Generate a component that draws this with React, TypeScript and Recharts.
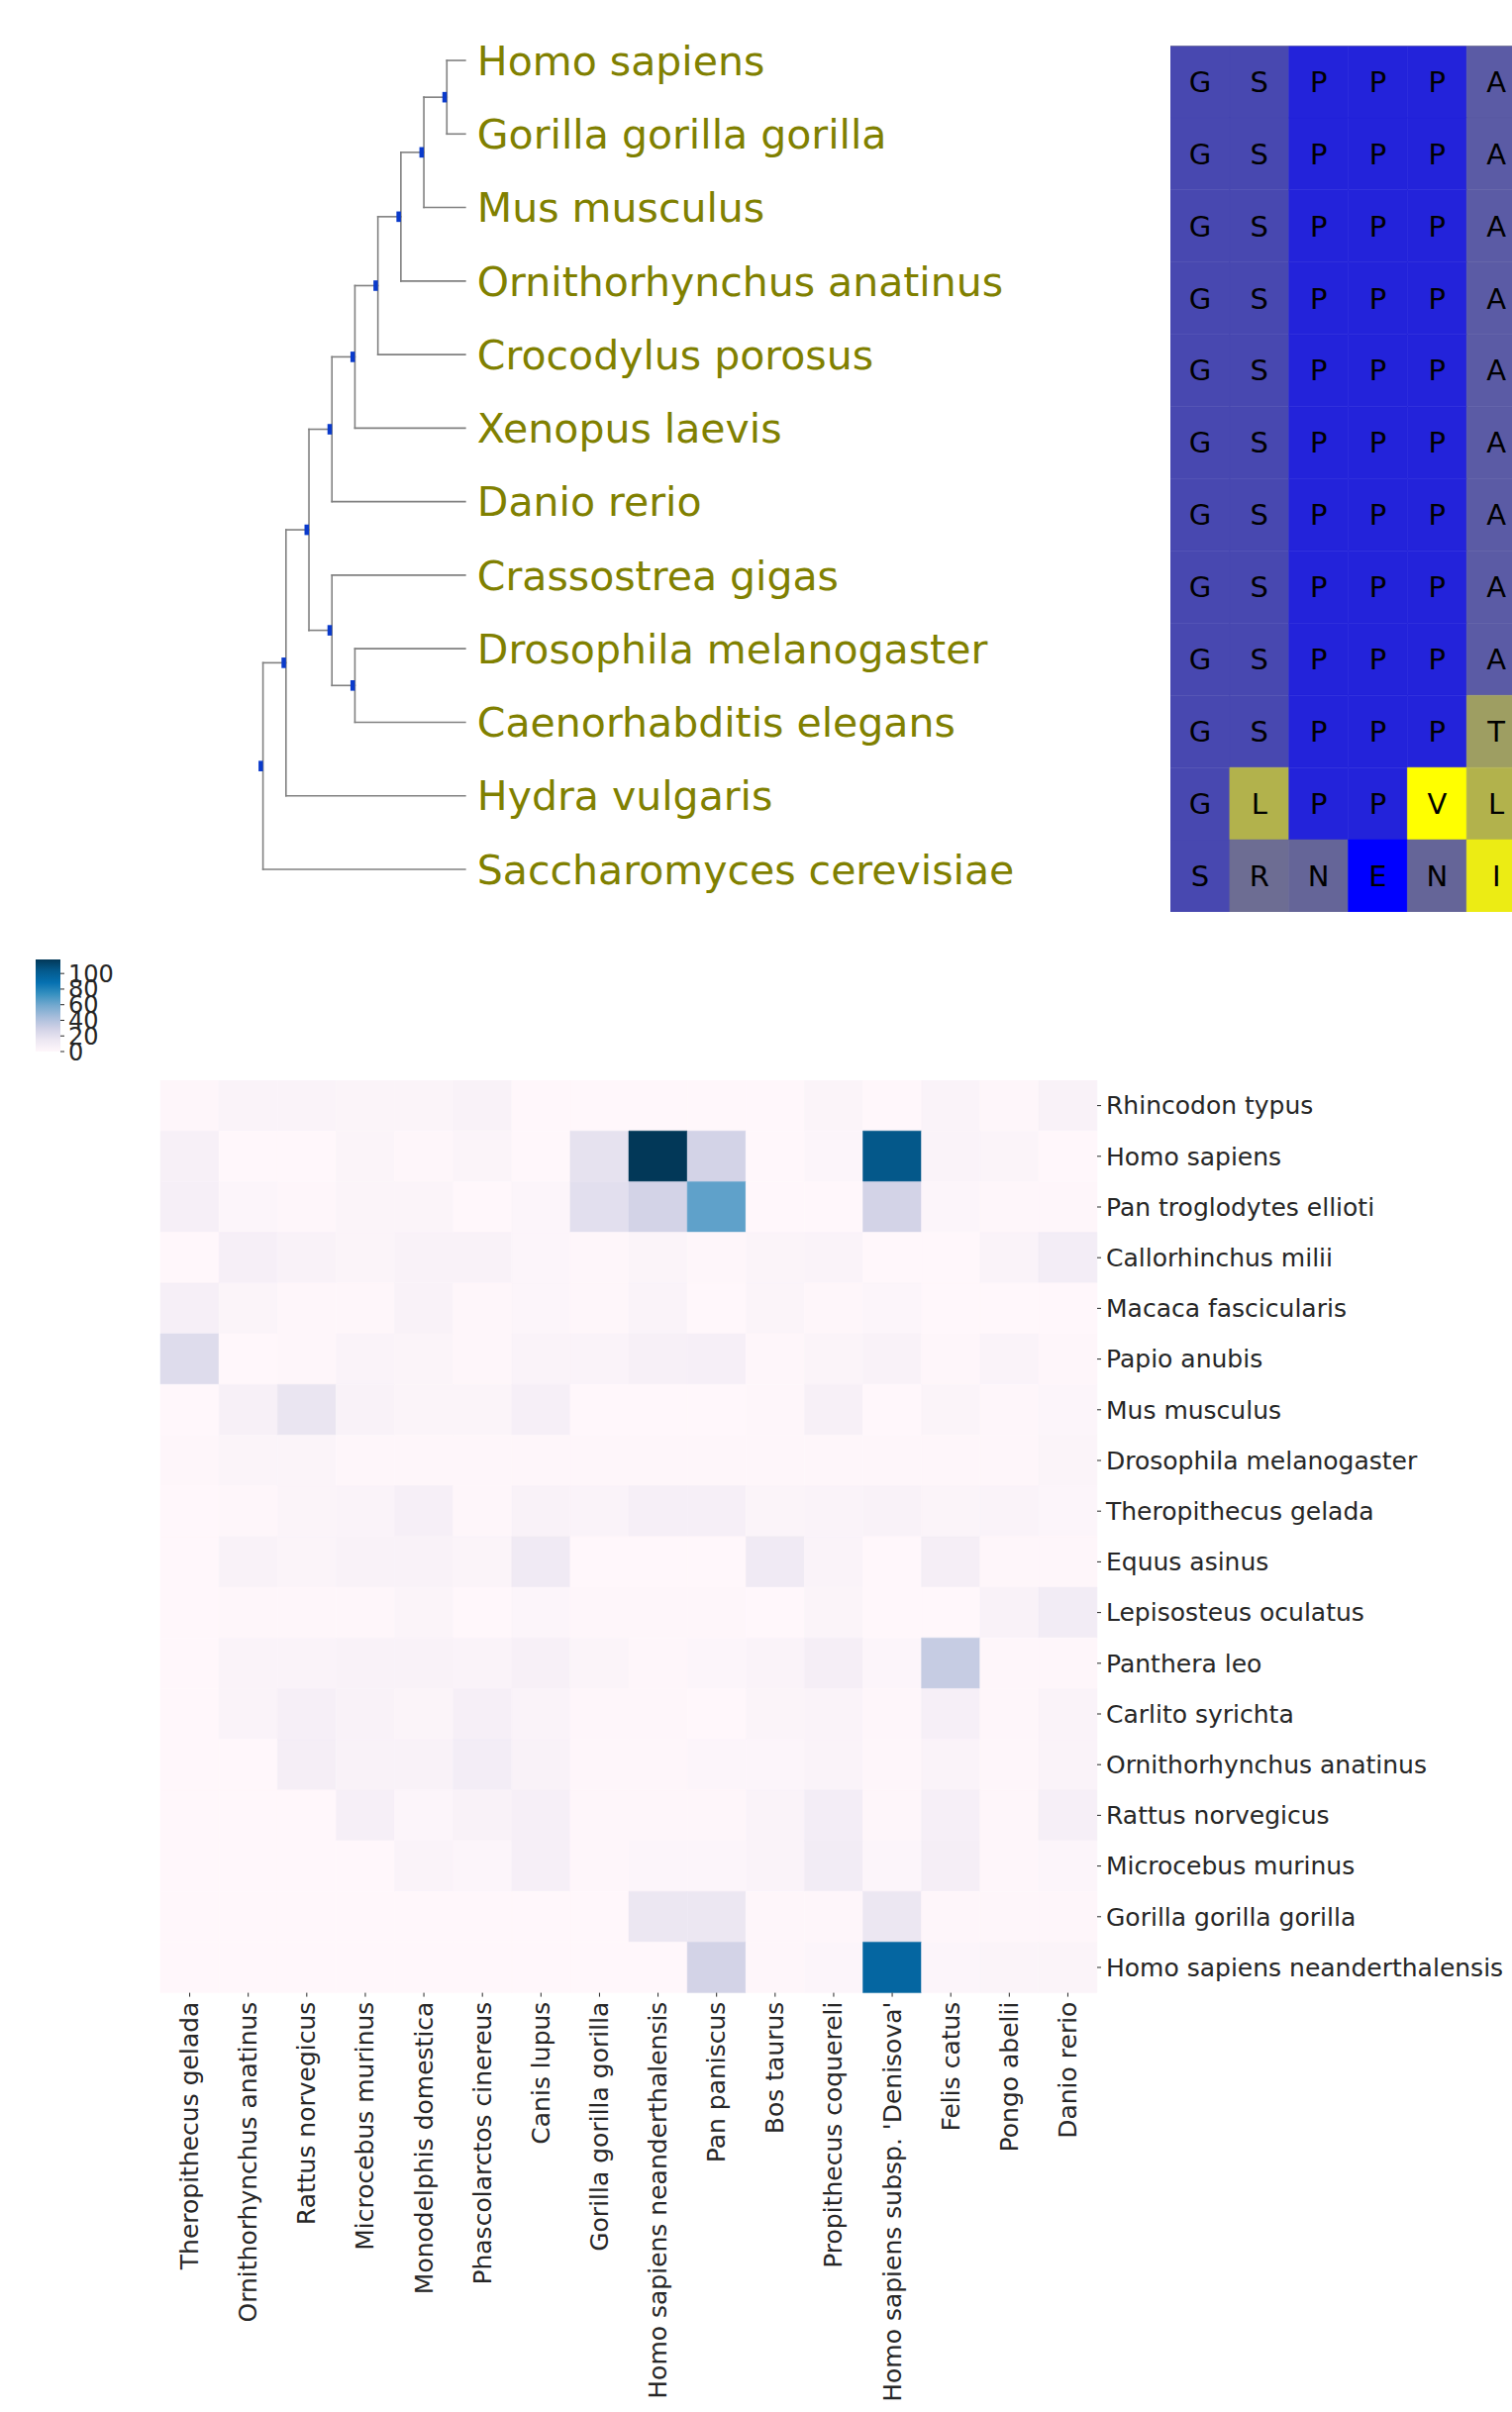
import React from "react";
import {
  BarChart,
  Bar,
  Cell,
  XAxis,
  YAxis,
  ScatterChart,
  Scatter,
  ReferenceLine,
  LabelList,
} from "recharts";

const FONT = "'DejaVu Sans', 'Liberation Sans', sans-serif";

// ---------------- Tree data ----------------
type TreeNode = string | TreeNode[];
const tree: TreeNode = [
  [
    [
      [[[[[["Homo sapiens", "Gorilla gorilla gorilla"], "Mus musculus"], "Ornithorhynchus anatinus"], "Crocodylus porosus"], "Xenopus laevis"], "Danio rerio"],
      ["Crassostrea gigas", ["Drosophila melanogaster", "Caenorhabditis elegans"]],
    ],
    "Hydra vulgaris",
  ],
  "Saccharomyces cerevisiae",
];
const LEAF_DEPTH = 8.8;

// ---------------- Alignment data ----------------
const alignmentColumns = ["1", "2", "3", "4", "5", "6"];
const alignmentRows = [
  "GSPPPA",
  "GSPPPA",
  "GSPPPA",
  "GSPPPA",
  "GSPPPA",
  "GSPPPA",
  "GSPPPA",
  "GSPPPA",
  "GSPPPA",
  "GSPPPT",
  "GLPPVL",
  "SRNENI",
];
const residueColors: Record<string, string> = {
  G: "#4848b0",
  S: "#4848b0",
  P: "#2323da",
  A: "#5b5ba5",
  T: "#9e9e62",
  L: "#b2b24c",
  V: "#ffff00",
  R: "#6d6d93",
  N: "#656598",
  E: "#0000ff",
  I: "#ecec14",
};

// ---------------- Heatmap data ----------------
const heatColumns = [
  "Theropithecus gelada",
  "Ornithorhynchus anatinus",
  "Rattus norvegicus",
  "Microcebus murinus",
  "Monodelphis domestica",
  "Phascolarctos cinereus",
  "Canis lupus",
  "Gorilla gorilla gorilla",
  "Homo sapiens neanderthalensis",
  "Pan paniscus",
  "Bos taurus",
  "Propithecus coquereli",
  "Homo sapiens subsp. 'Denisova'",
  "Felis catus",
  "Pongo abelii",
  "Danio rerio",
];
const heatRowNames = [
  "Rhincodon typus",
  "Homo sapiens",
  "Pan troglodytes ellioti",
  "Callorhinchus milii",
  "Macaca fascicularis",
  "Papio anubis",
  "Mus musculus",
  "Drosophila melanogaster",
  "Theropithecus gelada",
  "Equus asinus",
  "Lepisosteus oculatus",
  "Panthera leo",
  "Carlito syrichta",
  "Ornithorhynchus anatinus",
  "Rattus norvegicus",
  "Microcebus murinus",
  "Gorilla gorilla gorilla",
  "Homo sapiens neanderthalensis",
];
const heatValues: number[][] = [
  [1, 4, 4, 3, 3, 5, 0, 0, 0, 0, 0, 3, 0, 4, 1, 5],
  [6, 0, 0, 3, 1, 3, 0, 18, 118, 28, 0, 2, 104, 4, 3, 0],
  [7, 2, 1, 3, 3, 0, 2, 20, 28, 64, 0, 0, 28, 2, 1, 1],
  [0, 7, 5, 3, 5, 5, 2, 1, 3, 1, 3, 4, 0, 0, 4, 9],
  [7, 3, 1, 1, 5, 1, 2, 1, 4, 0, 3, 1, 2, 0, 0, 0],
  [22, 0, 1, 4, 3, 1, 4, 4, 6, 7, 1, 3, 5, 1, 4, 1],
  [0, 6, 16, 5, 3, 3, 7, 0, 0, 0, 1, 6, 0, 3, 1, 2],
  [1, 3, 3, 1, 1, 1, 1, 1, 1, 1, 1, 1, 1, 1, 1, 3],
  [0, 1, 3, 4, 7, 1, 5, 4, 7, 7, 3, 4, 5, 3, 4, 2],
  [0, 5, 3, 5, 5, 3, 12, 0, 0, 0, 12, 4, 0, 8, 1, 1],
  [0, 1, 1, 1, 3, 0, 2, 1, 1, 1, 0, 3, 0, 0, 5, 10],
  [0, 4, 4, 5, 5, 4, 6, 3, 1, 2, 4, 8, 2, 33, 1, 1],
  [0, 4, 7, 5, 3, 7, 4, 1, 1, 0, 3, 4, 1, 7, 1, 4],
  [0, 0, 8, 5, 5, 9, 5, 1, 1, 2, 2, 4, 1, 4, 1, 4],
  [0, 0, 0, 7, 2, 5, 7, 1, 1, 1, 4, 9, 1, 7, 1, 7],
  [0, 0, 0, 0, 4, 2, 7, 1, 2, 2, 4, 10, 2, 8, 1, 2],
  [0, 0, 0, 0, 0, 0, 0, 0, 15, 15, 1, 1, 15, 1, 1, 1],
  [0, 0, 0, 0, 0, 0, 0, 0, 0, 28, 1, 2, 95, 2, 3, 3],
];
const colorbarTicks = [0, 20, 40, 60, 80, 100];
const VMAX = 118;

// ---------------- Colormap (PuBu) ----------------
const PUBU = ["#fff7fb", "#ece7f2", "#d0d1e6", "#a6bddb", "#74a9cf", "#3690c0", "#0570b0", "#045a8d", "#023858"];
function hexToRgb(h: string) {
  return [parseInt(h.slice(1, 3), 16), parseInt(h.slice(3, 5), 16), parseInt(h.slice(5, 7), 16)];
}
function pubu(t: number) {
  const c = Math.max(0, Math.min(1, t));
  const s = c * 8;
  const i = Math.min(7, Math.floor(s));
  const f = s - i;
  const a = hexToRgb(PUBU[i]);
  const b = hexToRgb(PUBU[i + 1]);
  const m = a.map((v, k) => Math.round(v + (b[k] - v) * f));
  return `rgb(${m[0]},${m[1]},${m[2]})`;
}

// ---------------- Tree layout ----------------
type Seg = { x1: number; y1: number; x2: number; y2: number };
function layoutTree(root: TreeNode) {
  const nodes: { x: number; y: number }[] = [];
  const leaves: { x: number; y: number; name: string }[] = [];
  const segs: Seg[] = [];
  let leafIdx = 0;
  function walk(n: TreeNode, depth: number): { x: number; y: number } {
    if (typeof n === "string") {
      const p = { x: LEAF_DEPTH, y: leafIdx++, name: n };
      leaves.push(p);
      return p;
    }
    const kids = n.map((c) => walk(c, depth + 1));
    const y = (kids[0].y + kids[kids.length - 1].y) / 2;
    segs.push({ x1: depth, y1: kids[0].y, x2: depth, y2: kids[kids.length - 1].y });
    kids.forEach((k) => segs.push({ x1: depth, y1: k.y, x2: k.x, y2: k.y }));
    const p = { x: depth, y };
    nodes.push(p);
    return p;
  }
  walk(root, 0);
  return { nodes, leaves, segs };
}

const NodeMarker = (props: any) => {
  const { cx, cy } = props;
  return <rect x={cx - 4.5} y={cy - 5.3} width={4.5} height={10.6} fill="#0a3acb" />;
};
const LeafLabel = (props: any) => {
  const { cx, cy, payload } = props;
  return (
    <text x={cx + 12} y={cy} dy="0.36em" fontSize={41} fill="#808000" fontFamily={FONT}>
      {payload.name}
    </text>
  );
};

function TreeChart() {
  const { nodes, leaves, segs } = layoutTree(tree);
  return (
    <ScatterChart width={1170} height={930} margin={{ top: 23.9, left: 265.6, right: 672.3, bottom: 14.9 }}>
      <XAxis type="number" dataKey="x" domain={[0, 10]} hide />
      <YAxis type="number" dataKey="y" domain={[-0.5, 11.5]} reversed hide />
      {segs.map((s, i) => (
        <ReferenceLine
          key={i}
          segment={[
            { x: s.x1, y: s.y1 },
            { x: s.x2, y: s.y2 },
          ]}
          stroke="#808080"
          strokeWidth={1.6}
          strokeLinecap="square"
          ifOverflow="visible"
        />
      ))}
      <Scatter data={nodes} isAnimationActive={false} shape={NodeMarker} />
      <Scatter data={leaves} isAnimationActive={false} shape={LeafLabel} />
    </ScatterChart>
  );
}

function AlignmentChart() {
  const data = alignmentColumns.map((c, ci) => {
    const d: any = { col: c };
    alignmentRows.forEach((r, ri) => {
      d[`r${ri}`] = 1;
      d[`l${ri}`] = r[ci];
    });
    return d;
  });
  return (
    <BarChart width={359} height={875} data={data} margin={{ top: 0, right: 0, left: 0, bottom: 0 }} barCategoryGap={0} barGap={0}>
      <XAxis dataKey="col" hide />
      <YAxis type="number" domain={[0, 12]} reversed hide />
      {alignmentRows.map((r, ri) => (
        <Bar key={ri} dataKey={`r${ri}`} stackId="a" isAnimationActive={false}>
          {data.map((_, ci) => (
            <Cell key={ci} fill={residueColors[r[ci]]} stroke={residueColors[r[ci]]} strokeWidth={0.5} />
          ))}
          <LabelList dataKey={`l${ri}`} position="center" fill="#000" fontSize={29} fontFamily={FONT} />
        </Bar>
      ))}
      <ReferenceLine y={0} stroke="#999" strokeWidth={1.2} ifOverflow="visible" />
    </BarChart>
  );
}

const colorbarData = [{ name: "scale", value: VMAX }];

function ColorbarChart() {
  return (
    <BarChart width={200} height={120} data={colorbarData} margin={{ top: 10, left: 36, right: 39, bottom: 17 }} barCategoryGap={0} barGap={0}>
      <XAxis dataKey="name" hide />
      <YAxis
        type="number"
        orientation="right"
        domain={[0, VMAX]}
        ticks={colorbarTicks}
        width={100}
        axisLine={false}
        tickSize={4}
        tickMargin={4}
        tickLine={{ stroke: "#262626" }}
        tick={{ fill: "#262626", fontSize: 24, fontFamily: FONT }}
        interval={0}
      />
      <Bar dataKey="value" fill="url(#pubuGrad)" isAnimationActive={false} />
    </BarChart>
  );
}

const RotTick = (props: any) => {
  const { x, y, payload } = props;
  return (
    <text
      x={x}
      y={y}
      transform={`rotate(-90 ${x} ${y})`}
      textAnchor="end"
      dominantBaseline="central"
      fontSize={25}
      fill="#262626"
      fontFamily={FONT}
    >
      {payload.value}
    </text>
  );
};

function HeatmapChart() {
  const data = heatColumns.map((c) => {
    const d: any = { name: c };
    heatRowNames.forEach((_, ri) => (d[`r${ri}`] = 1));
    return d;
  });
  const rowTicks = heatRowNames.map((_, i) => i + 0.5);
  return (
    <BarChart width={1527} height={1345} data={data} margin={{ top: 0, left: 162, right: 19, bottom: 3.4 }} barCategoryGap={0} barGap={0}>
      <XAxis
        dataKey="name"
        type="category"
        interval={0}
        height={420}
        tickSize={4}
        tickMargin={5}
        axisLine={false}
        tickLine={{ stroke: "#262626" }}
        tick={<RotTick />}
      />
      <YAxis
        type="number"
        domain={[0, 18]}
        reversed
        orientation="right"
        width={400}
        ticks={rowTicks}
        interval={0}
        tickFormatter={(v: number) => heatRowNames[Math.floor(v)]}
        tickSize={4}
        tickMargin={5}
        axisLine={false}
        tickLine={{ stroke: "#262626" }}
        tick={{ fill: "#262626", fontSize: 25, fontFamily: FONT }}
      />
      {heatRowNames.map((_, ri) => (
        <Bar key={ri} dataKey={`r${ri}`} stackId="h" isAnimationActive={false}>
          {heatColumns.map((_, ci) => {
            const col = pubu(heatValues[ri][ci] / VMAX);
            return <Cell key={ci} fill={col} stroke={col} strokeWidth={0.5} />;
          })}
        </Bar>
      ))}
    </BarChart>
  );
}

export default function App() {
  return (
    <div
      style={{
        position: "absolute",
        left: 0,
        top: 0,
        width: 1527,
        height: 2436,
        overflow: "hidden",
        background: "#fff",
        fontFamily: FONT,
      }}
    >
      <svg width={2} height={2} style={{ position: "absolute", left: 0, top: 0 }}>
        <defs>
          <linearGradient id="pubuGrad" x1="0" y1="1" x2="0" y2="0">
            {PUBU.map((c, i) => (
              <stop key={i} offset={i / (PUBU.length - 1)} stopColor={c} />
            ))}
          </linearGradient>
        </defs>
      </svg>
      <div style={{ position: "absolute", left: 0, top: 0 }}>
        <TreeChart />
      </div>
      <div style={{ position: "absolute", left: 1182, top: 46 }}>
        <AlignmentChart />
      </div>
      <div style={{ position: "absolute", left: 0, top: 959 }}>
        <ColorbarChart />
      </div>
      <div style={{ position: "absolute", left: 0, top: 1091 }}>
        <HeatmapChart />
      </div>
    </div>
  );
}
